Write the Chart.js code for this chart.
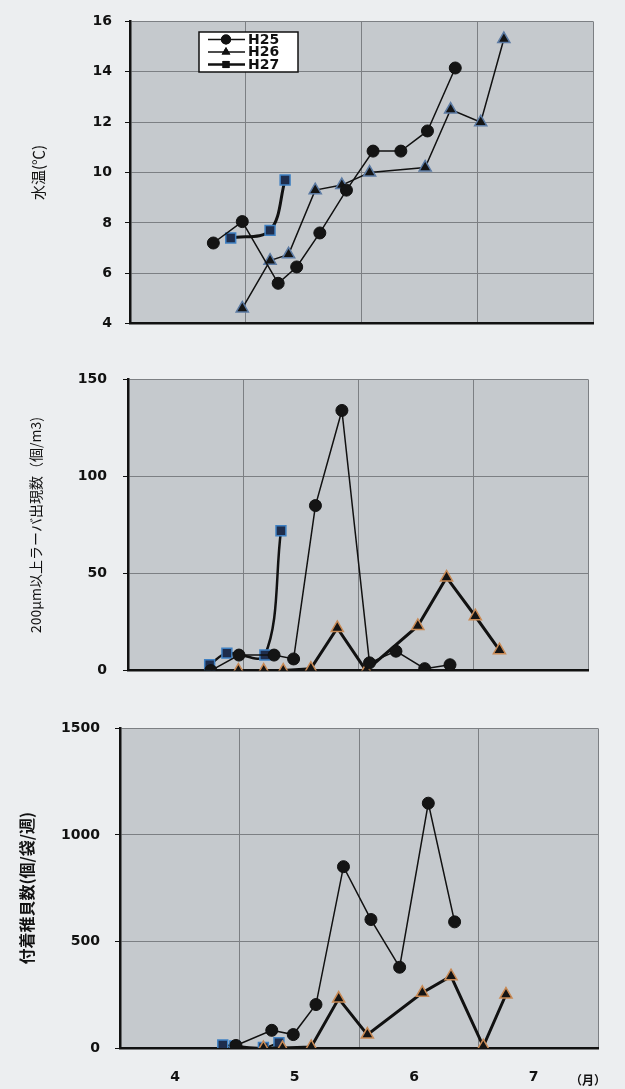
<!DOCTYPE html>
<html>
<head>
<meta charset="utf-8">
<script src="https://cdn.jsdelivr.net/npm/chart.js@4.4.1/dist/chart.umd.min.js"></script>
<style>
  body { margin: 0; background: #eceef0; }
  #page { position: relative; width: 625px; height: 1089px; overflow: hidden; }
  canvas { position: absolute; left: 0; }
  #c1 { top: 0; }
  #c2 { top: 355px; }
  #c3 { top: 705px; }
  #unit { position: absolute; left: 570px; top: 1071px; font: bold 12px "Noto Sans CJK JP"; color: #111; }
</style>
</head>
<body>
<div id="page">
  <canvas id="c1" width="625" height="345"></canvas>
  <canvas id="c2" width="625" height="340"></canvas>
  <canvas id="c3" width="625" height="384"></canvas>
  <span id="unit">（月）</span>
</div>
<script>
// x values are in months (4 = start of April)
const monthTicks = [4, 5, 6, 7, 8];
const monthLabels = ["4", "5", "6", "7", ""];

// water temperature
const tempDayH25 = [4.72, 4.97, 5.28, 5.44, 5.64, 5.87, 6.10, 6.34, 6.57, 6.81];
const tempH25 = [7.2, 8.05, 5.6, 6.25, 7.6, 9.3, 10.85, 10.85, 11.65, 14.15];
const tempDayH26 = [4.97, 5.21, 5.37, 5.60, 5.83, 6.07, 6.55, 6.77, 7.03, 7.23];
const tempH26 = [4.6, 6.5, 6.75, 9.3, 9.5, 10.0, 10.2, 12.5, 12.0, 15.3];
const tempDayH27 = [4.87, 5.21, 5.34];
const tempH27 = [7.4, 7.7, 9.7];

// larvae over 200 um (per m3)
const larvaDayH25 = [4.72, 4.965, 5.27, 5.44, 5.63, 5.86, 6.10, 6.33, 6.58, 6.80];
const larvaH25 = [0, 8, 8, 6, 85, 134, 4, 10, 1, 3];
const larvaDayH26 = [4.96, 5.18, 5.35, 5.59, 5.82, 6.07, 6.52, 6.77, 7.02, 7.23];
const larvaH26 = [0, 0, 0, 1, 22, 0, 23, 48, 28, 10.5];
const larvaDayH27 = [4.71, 4.86, 5.19, 5.33];
const larvaH27 = [3, 9, 8, 72];

// attached spat (per bag per week)
const spatDayH25 = [4.97, 5.27, 5.45, 5.64, 5.87, 6.10, 6.34, 6.58, 6.80];
const spatH25 = [12, 83, 63, 204, 851, 603, 379, 1149, 592];
const spatDayH26 = [5.20, 5.36, 5.60, 5.83, 6.07, 6.53, 6.77, 7.04, 7.23];
const spatH26 = [0, 0, 5, 232, 63, 259, 337, 8, 251];
const spatDayH27 = [4.86, 4.96, 5.20, 5.33];
const spatH27 = [14, 10, 2, 25];

const tickFont = { family: "DejaVu Sans", size: 14, weight: "bold" };

const plotBg = {
    id: "plotBg",
    beforeDraw(chart) {
        const { ctx, chartArea: a } = chart;
        ctx.save();
        ctx.fillStyle = "#c5c9cd";
        ctx.fillRect(a.left, a.top, a.width, a.height);
        ctx.restore();
    }
};

// boxed legend at the top left of the first chart
const boxLegend = {
    id: "boxLegend",
    afterDraw(chart) {
        const ctx = chart.ctx;
        ctx.save();
        ctx.fillStyle = "#fff";
        ctx.fillRect(199, 32, 99, 40);
        ctx.strokeStyle = "#111";
        ctx.lineWidth = 1.5;
        ctx.strokeRect(199, 32, 99, 40);
        chart.data.datasets.forEach((ds, i) => {
            const y = 39.5 + i * 12.5;
            ctx.strokeStyle = "#111";
            ctx.lineWidth = Math.min(ds.borderWidth, 2.5);
            ctx.beginPath();
            ctx.moveTo(208, y);
            ctx.lineTo(245, y);
            ctx.stroke();
            ctx.fillStyle = "#111";
            Chart.helpers.drawPoint(ctx, { pointStyle: ds.pointStyle, radius: 5, rotation: 0, borderWidth: 0 }, 226, y);
            ctx.fill();
            ctx.font = "bold 14px 'DejaVu Sans'";
            ctx.textBaseline = "middle";
            ctx.fillText(ds.label, 248, y + 0.5);
        });
        ctx.restore();
    }
};

function pts(xs, ys) {
    return xs.map((x, i) => ({ x: x, y: ys[i] }));
}

function circleSet(xs, ys) {
    return {
        label: "H25", data: pts(xs, ys),
        borderColor: "#111", borderWidth: 1.5,
        pointStyle: "circle", pointRadius: 6,
        pointBackgroundColor: "#141414", pointBorderColor: "#111", pointBorderWidth: 1
    };
}

function triangleSet(xs, ys, width, edge) {
    return {
        label: "H26", data: pts(xs, ys),
        borderColor: "#111", borderWidth: width,
        pointStyle: "triangle", pointRadius: 7,
        pointBackgroundColor: "#141414", pointBorderColor: edge, pointBorderWidth: 1.5
    };
}

function squareSet(xs, ys, width) {
    return {
        label: "H27", data: pts(xs, ys),
        borderColor: "#111", borderWidth: width, tension: 0.35,
        pointStyle: "rect", pointRadius: 7,
        pointBackgroundColor: "#1e2d4c", pointBorderColor: "#3f80c2", pointBorderWidth: 1.5
    };
}

function makeChart(id, datasets, o) {
    return new Chart(document.getElementById(id), {
        type: "line",
        data: { datasets: datasets },
        options: {
            responsive: false,
            animation: false,
            layout: { padding: { top: o.top, right: o.right, bottom: o.bottom, left: 0 } },
            plugins: { legend: { display: false }, tooltip: { enabled: false } },
            scales: {
                x: {
                    type: "linear", min: 4, max: 8,
                    afterBuildTicks: s => { s.ticks = monthTicks.map(v => ({ value: v })); },
                    afterFit: s => { s.height = o.xHeight; },
                    grid: { color: "#7c7f83", lineWidth: 1, drawTicks: false },
                    border: { color: "#111", width: 2.5 },
                    ticks: {
                        display: o.xLabels, autoSkip: false, maxRotation: 0,
                        padding: 21, labelOffset: 55, color: "#111", font: tickFont,
                        callback: (v, i) => monthLabels[i]
                    }
                },
                y: {
                    min: o.min, max: o.max,
                    afterFit: s => { s.width = o.left; },
                    grid: { color: "#7c7f83", lineWidth: 1, tickLength: 5, tickColor: "#111" },
                    border: { color: "#111", width: 2.5 },
                    ticks: {
                        stepSize: o.step, padding: o.tickPad, color: "#111", font: tickFont,
                        callback: v => String(v)
                    },
                    title: {
                        display: true, text: o.title, color: "#111",
                        font: { family: "Noto Sans CJK JP", size: o.titleSize, weight: o.titleWeight },
                        padding: { top: o.titlePad, bottom: 0 }
                    }
                }
            }
        },
        plugins: o.legend ? [plotBg, boxLegend] : [plotBg]
    });
}

makeChart("c1", [
    circleSet(tempDayH25, tempH25),
    triangleSet(tempDayH26, tempH26, 1.5, "#5b7aa3"),
    squareSet(tempDayH27, tempH27, 3)
], {
    top: 15, right: 32, bottom: 17, left: 130, xHeight: 0, xLabels: false,
    min: 4, max: 16, step: 2, tickPad: 13,
    title: "水温(℃)", titleSize: 15, titleWeight: "normal", titlePad: 29, legend: true
});

makeChart("c2", [
    circleSet(larvaDayH25, larvaH25),
    triangleSet(larvaDayH26, larvaH26, 3, "#c98a55"),
    squareSet(larvaDayH27, larvaH27, 2.5)
], {
    top: 23, right: 37, bottom: 19, left: 128, xHeight: 0, xLabels: false,
    min: 0, max: 150, step: 50, tickPad: 16,
    title: "200μm以上ラーバ出現数（個/m3)", titleSize: 14, titleWeight: "normal", titlePad: 27, legend: false
});

makeChart("c3", [
    circleSet(spatDayH25, spatH25),
    triangleSet(spatDayH26, spatH26, 3, "#c98a55"),
    squareSet(spatDayH27, spatH27, 2)
], {
    top: 23, right: 27, bottom: 0, left: 120, xHeight: 41, xLabels: true,
    min: 0, max: 1500, step: 500, tickPad: 15,
    title: "付着稚貝数(個/袋/週)", titleSize: 16, titleWeight: "bold", titlePad: 17, legend: false
});
</script>
</body>
</html>
